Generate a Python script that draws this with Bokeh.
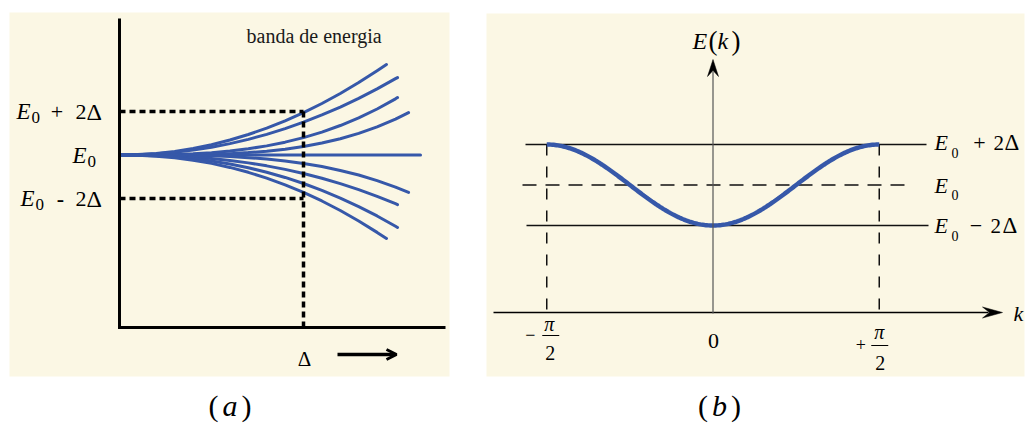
import numpy as np
from bokeh.plotting import figure
from bokeh.layouts import row
from bokeh.models import Range1d, Arrow, OpenHead
from bokeh.core.properties import value
from bokeh.embed import file_html
from bokeh.resources import INLINE

SERIF = "Liberation Serif"
CREAM = "#FBF7E4"
BLUE = "#3658A9"
H = 424

# ---------------- data ----------------
# (a) energy levels (units of the reference Δ, relative to E0) against the coupling Δ
delta_grid = [0.0, 0.1, 0.2, 0.3, 0.4, 0.5, 0.6, 0.7, 0.8, 0.9, 1.0, 1.1, 1.2, 1.3, 1.4]
level_E = [
    [0, 0.018, 0.073, 0.167, 0.301, 0.474, 0.688, 0.942, 1.237, 1.573, 1.95, 2.368, 2.829, 3.330, 3.874],
    [0, 0.013, 0.053, 0.124, 0.225, 0.357, 0.522, 0.719, 0.949, 1.213, 1.51, 1.841, 2.206, 2.606, 3.041],
    [0, 0.001, 0.008, 0.025, 0.057, 0.108, 0.183, 0.285, 0.420, 0.590, 0.80, 1.054, 1.355, 1.708, 2.116],
    [0, 0.000, 0.001, 0.005, 0.015, 0.033, 0.063, 0.110, 0.176, 0.268, 0.39, 0.548, 0.746, 0.992, 1.292],
    [0, 0, 0, 0, 0, 0, 0, 0, 0, 0, 0, 0, 0, 0, 0],
    [0, 0.000, -0.002, -0.008, -0.019, -0.040, -0.073, -0.121, -0.188, -0.276, -0.39, -0.533, -0.709, -0.922, -1.176],
    [0, -0.003, -0.018, -0.048, -0.095, -0.162, -0.251, -0.362, -0.499, -0.661, -0.85, -1.067, -1.314, -1.591, -1.900],
    [0, -0.007, -0.034, -0.086, -0.165, -0.274, -0.413, -0.585, -0.791, -1.032, -1.31, -1.625, -1.978, -2.370, -2.802],
    [0, -0.012, -0.053, -0.128, -0.238, -0.385, -0.571, -0.796, -1.062, -1.370, -1.72, -2.113, -2.550, -3.032, -3.558],
]
level_tail_delta = [[1.451], [1.5, 1.511], [1.5, 1.511], [1.5, 1.571], [1.636],
                    [1.5, 1.571], [1.5, 1.511], [1.5, 1.511], [1.451]]
level_tail_E = [[4.16], [3.510, 3.56], [2.582, 2.64], [1.652, 1.95], [0.0],
                [-1.475, -1.72], [-2.240, -2.28], [-3.275, -3.33], [-3.84]]
band_marks_a = [2.0, 0.0, -2.0]      # E0+2Δ, E0, E0-2Δ
delta_mark = 1.0

# (b) tight-binding band E(k) = E0 - 2Δ cos(2k) over -π/2 ≤ k ≤ π/2
band_levels = [2.0, 0.0, -2.0]
k_edges = [-np.pi / 2, np.pi / 2]
k_ticks = [-np.pi / 2, 0.0, np.pi / 2]


def make_fig(w, xr, yr):
    p = figure(width=w, height=H, x_range=Range1d(*xr), y_range=Range1d(*yr),
               output_backend="svg", toolbar_location=None,
               x_axis_location=None, y_axis_location=None, min_border=0)
    p.grid.visible = False
    p.outline_line_color = None
    p.background_fill_color = "white"
    p.border_fill_color = "white"
    return p


def put(p, cx, cy, gx, gy, s, size, style="normal", align="left", color="black"):
    # gy is the vertical middle of the text line on screen
    p.text(x=[cx(gx)], y=[cy(gy)], text=[s], text_font=value(SERIF),
           text_font_size=f"{size}px", text_font_style=style, text_align=align,
           text_baseline="middle", text_color=color)


# ---------------- panel (a) ----------------
A_X0, A_XS = 119.0, 184.0     # screen x of Δ=0, px per unit Δ
A_Y0, A_YS = 154.5, 21.75     # screen y of E0, px per unit energy


def ax(gx):
    return (gx - A_X0) / A_XS


def ay(gy):
    return (A_Y0 - gy) / A_YS


def ay_px(e):
    return A_Y0 - e * A_YS


pa = make_fig(480, (ax(0), ax(480)), (ay(H), ay(0)))
pa.quad(left=ax(9), right=ax(449), top=ay(12), bottom=ay(376), color=CREAM, line_color=None)

xs = [delta_grid + t for t in level_tail_delta]
ys = [e + t for e, t in zip(level_E, level_tail_E)]
pa.multi_line(xs, ys, line_color=BLUE, line_width=3, line_cap="round", line_join="round")

axis_bottom = ay(327)
pa.multi_line([[0, delta_mark], [0, delta_mark], [delta_mark, delta_mark]],
              [[band_marks_a[0]] * 2, [band_marks_a[2]] * 2, [band_marks_a[0], axis_bottom]],
              line_color="black", line_width=3.5, line_dash="6 4")

pa.line([0, 0, ax(445)], [ay(18), axis_bottom, axis_bottom],
        line_color="black", line_width=3, line_join="miter")

put(pa, ax, ay, 246, 35, "banda de energia", 20, color="#1a1a1a")

# level labels (x, dy, size, style)
for lvl, parts in zip(band_marks_a, [
        [("E", 16, 0, 23, "italic"), ("0", 31, 6, 17, "normal"), ("+", 56.5, 0, 22, "normal"),
         ("2", 75, 0, 22, "normal"), ("Δ", 86, 0, 24, "normal")],
        [("E", 72, 0, 23, "italic"), ("0", 87, 6, 17, "normal")],
        [("E", 20, 0, 23, "italic"), ("0", 35, 6, 17, "normal"), ("-", 60, 0, 22, "bold"),
         ("2", 75, 0, 22, "normal"), ("Δ", 86, 0, 24, "normal")]]):
    mid = ay_px(lvl)
    for s, gx, dy, size, style in parts:
        align = "center" if s in "+-" else "left"
        put(pa, ax, ay, gx, mid + dy, s, size, style, align=align)

put(pa, ax, ay, A_X0 + delta_mark * A_XS + 1, 358, "Δ", 21, align="center")
pa.add_layout(Arrow(x_start=ax(337), y_start=ay(354), x_end=ax(396), y_end=ay(354),
                    line_width=3.5, line_color="black",
                    end=OpenHead(size=10, line_width=3, line_color="black")))

put(pa, ax, ay, 213, 405, "(", 30, align="center")
put(pa, ax, ay, 229.5, 405, "a", 30, "italic", align="center")
put(pa, ax, ay, 246, 405, ")", 30, align="center")

# ---------------- panel (b) ----------------
B_X0, B_XS = 712.5, 166.25 / (np.pi / 2)   # screen x of k=0, px per unit k
B_Y0, B_YS = 184.5, 20.25


def bx(gx):
    return (gx - B_X0) / B_XS


def by(gy):
    return (B_Y0 - gy) / B_YS


def by_px(e):
    return B_Y0 - e * B_YS


pb = make_fig(546, (bx(480), bx(1026)), (by(H), by(0)))
pb.quad(left=bx(486), right=bx(1024), top=by(13), bottom=by(376), color=CREAM, line_color=None)

k_axis_y = by(312)
pb.line([bx(525), bx(926)], [band_levels[0]] * 2, line_color="#111111", line_width=1.6)
pb.line([bx(526), bx(928)], [band_levels[2]] * 2, line_color="#111111", line_width=1.6)
pb.line([bx(522), bx(908)], [band_levels[1]] * 2, line_color="#111111", line_width=1.5,
        line_dash="14 9")
for k in k_edges:
    pb.line([k, k], [band_levels[0], k_axis_y], line_color="#111111", line_width=1.5,
            line_dash="11 11")

k = np.linspace(k_edges[0], k_edges[1], 241)
pb.line(k, band_levels[1] - 2 * np.cos(2 * k), line_color=BLUE, line_width=4.5)

# k axis with arrow
tip_x = bx(1002)
pb.line([bx(493), tip_x - 14 / B_XS], [k_axis_y] * 2, line_color="black", line_width=1.3)
pb.patch([tip_x, tip_x - 20 / B_XS, tip_x - 13 / B_XS, tip_x - 20 / B_XS],
         [k_axis_y, k_axis_y + 5.5 / B_YS, k_axis_y, k_axis_y - 5.5 / B_YS],
         color="black", line_width=0.5)

# E axis with arrow
tip_y = by(59)
pb.line([0, 0], [by(313), tip_y - 12 / B_YS], line_color="#555555", line_width=1.2)
pb.patch([0, 5.5 / B_XS, 0, -5.5 / B_XS],
         [tip_y, tip_y - 17 / B_YS, tip_y - 11 / B_YS, tip_y - 17 / B_YS],
         color="black", line_width=0.5)

put(pb, bx, by, 692, 40, "E", 24, "italic")
put(pb, bx, by, 708, 40, "(", 27)
put(pb, bx, by, 717, 40, "k", 24, "italic")
put(pb, bx, by, 731, 40, ")", 27)
put(pb, bx, by, 1013, 313, "k", 22, "italic")

# level labels on the right
for lvl, dmid, parts in zip(band_levels, [-2, 0, 0], [
        [("E", 934, 0, 22, "italic"), ("0", 951, 10, 14, "normal"), ("+", 979, 0, 22, "normal"),
         ("2", 993, 0, 21, "normal"), ("Δ", 1004, 0, 23, "normal")],
        [("E", 934, 0, 22, "italic"), ("0", 951, 10, 14, "normal")],
        [("E", 934, 0, 22, "italic"), ("0", 951, 10, 14, "normal"), ("−", 975.5, 0, 22, "normal"),
         ("2", 990, 0, 21, "normal"), ("Δ", 1002, 0, 23, "normal")]]):
    mid = by_px(lvl) + dmid
    for s, gx, dy, size, style in parts:
        align = "center" if s in "+−" else "left"
        put(pb, bx, by, gx, mid + dy, s, size, style, align=align)

# tick labels ±π/2 and 0
kx = [B_X0 + t * B_XS for t in k_ticks]
put(pb, bx, by, kx[0] - 16.5, 334, "−", 18, align="center")
put(pb, bx, by, kx[0] + 2.5, 323, "π", 20, "italic", align="center")
pb.line([bx(kx[0] - 4.5), bx(kx[0] + 12.5)], [by(335)] * 2, line_color="black", line_width=1)
put(pb, bx, by, kx[0] + 3.5, 352, "2", 20, align="center")

put(pb, bx, by, kx[1] + 0.5, 340, "0", 22, align="center")

put(pb, bx, by, kx[2] - 18.5, 344, "+", 18, align="center")
put(pb, bx, by, kx[2], 331, "π", 20, "italic", align="center")
pb.line([bx(kx[2] - 8), bx(kx[2] + 9)], [by(345)] * 2, line_color="black", line_width=1)
put(pb, bx, by, kx[2] + 1, 362, "2", 20, align="center")

put(pb, bx, by, 702.5, 405, "(", 30, align="center")
put(pb, bx, by, 719, 405, "b", 30, "italic", align="center")
put(pb, bx, by, 735.5, 405, ")", 30, align="center")

layout = row(pa, pb, spacing=0)
open("out.html", "w").write(file_html(layout, INLINE))
